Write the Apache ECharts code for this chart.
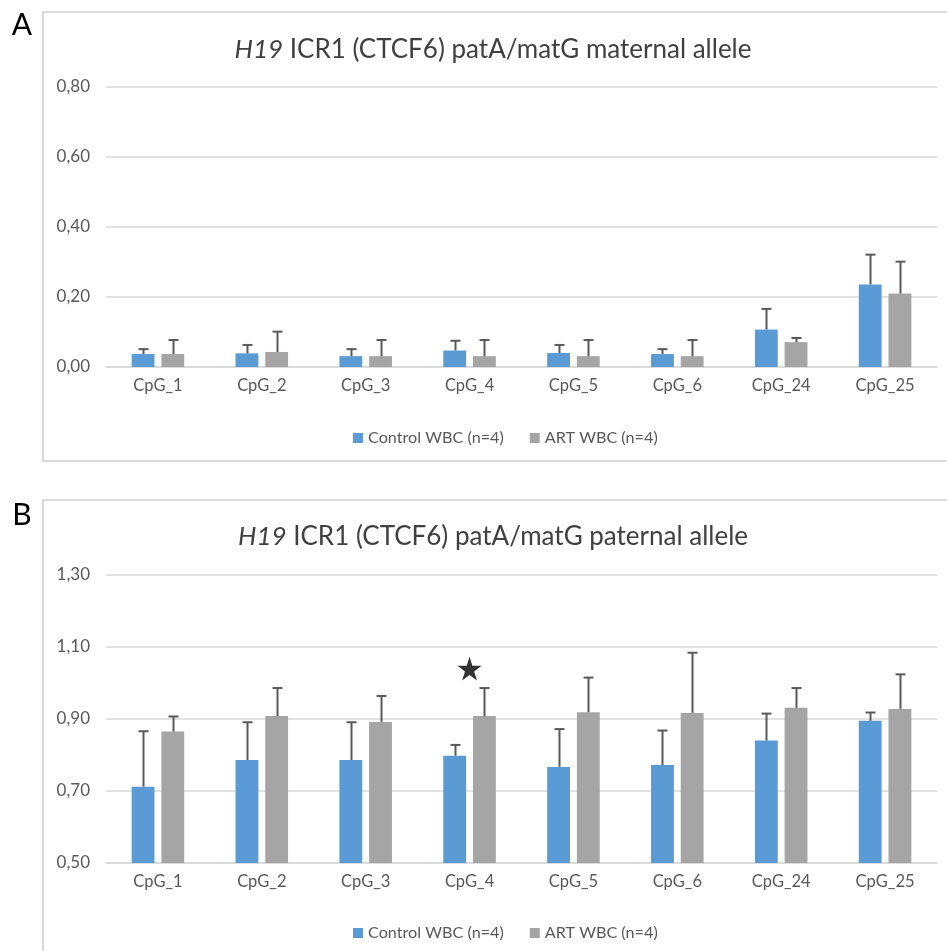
<!DOCTYPE html>
<html>
<head>
<meta charset="utf-8">
<script src="https://cdn.jsdelivr.net/npm/echarts@6/dist/echarts.min.js"></script>
<style>
html,body{margin:0;padding:0;background:#fff;}
#chart{width:947px;height:951px;}
</style>
</head>
<body>
<div id="chart"></div>
<script>
// ---- data ----
var categories = ['CpG_1','CpG_2','CpG_3','CpG_4','CpG_5','CpG_6','CpG_24','CpG_25'];
var seriesNames = ['Control WBC (n=4)','ART WBC (n=4)'];

// Panel A: maternal allele
var controlA    = [0.037, 0.039, 0.031, 0.047, 0.040, 0.037, 0.107, 0.236];
var controlAErr = [0.014, 0.024, 0.020, 0.028, 0.023, 0.014, 0.059, 0.085];
var artA        = [0.037, 0.043, 0.031, 0.031, 0.031, 0.031, 0.071, 0.210];
var artAErr     = [0.040, 0.058, 0.046, 0.046, 0.046, 0.046, 0.012, 0.091];

// Panel B: paternal allele
var controlB    = [0.712, 0.786, 0.786, 0.798, 0.767, 0.772, 0.840, 0.895];
var controlBErr = [0.154, 0.105, 0.105, 0.030, 0.105, 0.096, 0.075, 0.023];
var artB        = [0.865, 0.908, 0.892, 0.908, 0.919, 0.917, 0.931, 0.928];
var artBErr     = [0.042, 0.078, 0.072, 0.078, 0.096, 0.167, 0.055, 0.096];

// significance marker (category, value)
var starMarks = [['CpG_4', 1.04]];

var titleA = 'ICR1 (CTCF6) patA/matG maternal allele';
var titleB = 'ICR1 (CTCF6) patA/matG paternal allele';
var yTicksA = {min: 0, max: 0.8, interval: 0.2};
var yTicksB = {min: 0.5, max: 1.3, interval: 0.2};

// ---- styling ----
var FONT = 'Lato, "Open Sans", sans-serif';
var BLUE = '#5b9bd5', GRAY = '#a5a5a5', ERR = '#595959', TXT = '#595959', GRID = '#d9d9d9';
var BAR_W = 0.22, BAR_GAP = 0.3;

function errRender(seriesPos) {
  return function (params, api) {
    var idx = api.value(0), mean = api.value(1), sd = api.value(2);
    var base = api.coord([idx, mean]);
    var top = api.coord([idx, mean + sd]);
    var band = api.size([1, 0])[0];
    var bw = band * BAR_W;
    var off = (bw + bw * BAR_GAP) / 2 * seriesPos;
    var x = Math.round(base[0] + off) + 0.5;
    var st = {stroke: ERR, lineWidth: 2};
    return {
      type: 'group',
      children: [
        {type: 'line', shape: {x1: x, y1: base[1], x2: x, y2: top[1]}, style: st},
        {type: 'line', shape: {x1: x - 5, y1: top[1], x2: x + 5, y2: top[1]}, style: st}
      ]
    };
  };
}
function errData(vals, errs) {
  return vals.map(function (v, i) { return [i, v, errs[i]]; });
}

function xAxis(gi) {
  return {
    type: 'category', gridIndex: gi, data: categories,
    axisLine: {lineStyle: {color: GRID, width: 1.5}},
    axisTick: {show: false},
    axisLabel: {color: TXT, fontFamily: FONT, fontSize: 16.5, margin: 10}
  };
}
function yAxis(gi, t) {
  return {
    type: 'value', gridIndex: gi, min: t.min, max: t.max, interval: t.interval,
    axisLine: {show: false}, axisTick: {show: false},
    splitLine: {lineStyle: {color: GRID, width: 1.5}},
    axisLabel: {color: TXT, fontFamily: FONT, fontSize: 17, margin: 16,
      formatter: function (v) { return v.toFixed(2).replace('.', ','); }}
  };
}
function bars(name, gi, data, color) {
  return {
    name: name, type: 'bar', xAxisIndex: gi, yAxisIndex: gi, data: data,
    barWidth: (BAR_W * 100) + '%', barGap: (BAR_GAP * 100) + '%',
    itemStyle: {color: color}, z: 2
  };
}
function errs(gi, vals, e, pos) {
  return {
    type: 'custom', xAxisIndex: gi, yAxisIndex: gi, data: errData(vals, e),
    renderItem: errRender(pos), z: 5, silent: true
  };
}
function legend(top) {
  return {
    data: seriesNames, left: 348, top: top, itemWidth: 10, itemHeight: 10, itemGap: 26,
    icon: 'rect', selectedMode: false,
    textStyle: {color: TXT, fontFamily: FONT, fontSize: 16.2}
  };
}
function titleText(text, y) {
  return {
    type: 'text', x: 493, y: y,
    style: {
      text: '{i|H19} ' + text, align: 'center', verticalAlign: 'middle',
      fill: '#404040', font: '26px ' + FONT,
      rich: {i: {fontStyle: 'italic', fontSize: 26, fontFamily: FONT, fill: '#404040'}}
    }
  };
}

var chart = echarts.init(document.getElementById('chart'));
chart.setOption({
  animation: false,
  backgroundColor: '#fff',
  grid: [
    {left: 106, right: 10, top: 87, height: 280},
    {left: 106, right: 10, top: 575, height: 288}
  ],
  xAxis: [xAxis(0), xAxis(1)],
  yAxis: [yAxis(0, yTicksA), yAxis(1, yTicksB)],
  legend: [legend(425), legend(920)],
  series: [
    bars(seriesNames[0], 0, controlA, BLUE),
    bars(seriesNames[1], 0, artA, GRAY),
    errs(0, controlA, controlAErr, -1),
    errs(0, artA, artAErr, 1),
    bars(seriesNames[0], 1, controlB, BLUE),
    bars(seriesNames[1], 1, artB, GRAY),
    errs(1, controlB, controlBErr, -1),
    errs(1, artB, artBErr, 1),
    {
      type: 'scatter', xAxisIndex: 1, yAxisIndex: 1, data: starMarks,
      symbol: 'path://M50,0 L61.2,34.5 L97.6,34.5 L68.2,55.9 L79.4,90.5 L50,69.1 L20.6,90.5 L31.8,55.9 L2.4,34.5 L38.8,34.5 Z',
      symbolSize: 24, itemStyle: {color: '#000'}, z: 6, silent: true
    }
  ],
  graphic: [
    {type: 'rect', shape: {x: 43, y: 12, width: 920, height: 449},
      style: {fill: 'none', stroke: GRID, lineWidth: 2}},
    {type: 'rect', shape: {x: 43, y: 500, width: 920, height: 470},
      style: {fill: 'none', stroke: GRID, lineWidth: 2}},
    {type: 'text', x: 22, y: 25, style: {text: 'A', align: 'center', verticalAlign: 'middle', fill: '#000', font: '30px ' + FONT}},
    {type: 'text', x: 22, y: 515, style: {text: 'B', align: 'center', verticalAlign: 'middle', fill: '#000', font: '30px ' + FONT}},
    titleText(titleA, 50),
    titleText(titleB, 537)
  ]
});
</script>
</body>
</html>
